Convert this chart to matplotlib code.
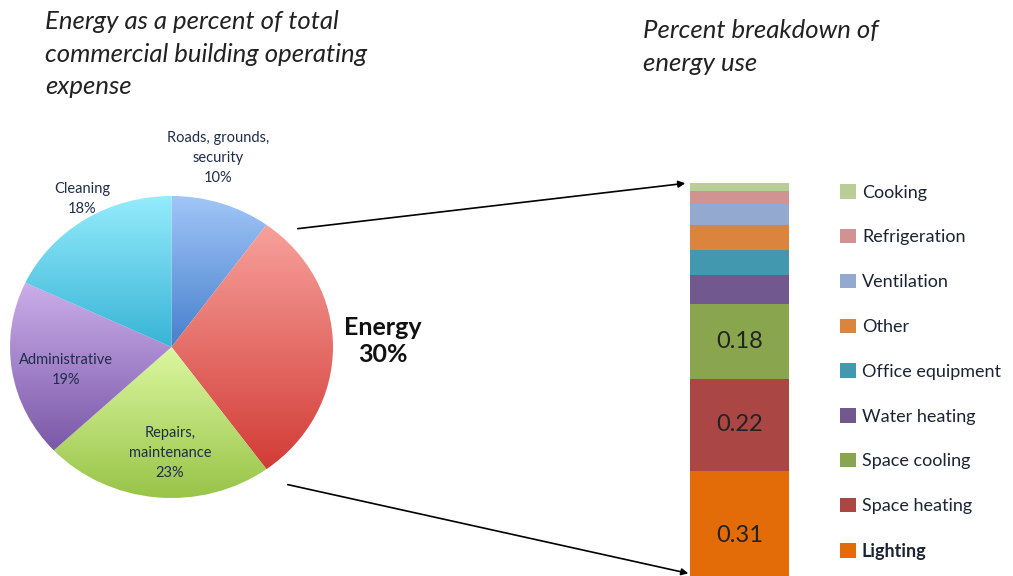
import numpy as np
import matplotlib.pyplot as plt
from matplotlib.colors import LinearSegmentedColormap
from matplotlib.patches import Patch

# operating expense breakdown (pie, clockwise from top)
pie_labels = ['Roads, grounds,\nsecurity', 'Energy', 'Repairs,\nmaintenance', 'Administrative', 'Cleaning']
pie_pct = [10, 30, 23, 19, 18]
pie_light = ['#a2c6f8', '#f8a19c', '#dcf7a0', '#cbaeea', '#95ecfc']
pie_dark = ['#4680cc', '#d23c36', '#98c448', '#7a58a8', '#38b4d6']

# energy use breakdown (stacked bar, bottom to top)
energy_uses = ['Lighting', 'Space heating', 'Space cooling', 'Water heating',
               'Office equipment', 'Other', 'Ventilation', 'Refrigeration', 'Cooking']
energy_share = [0.31, 0.22, 0.18, 0.07, 0.06, 0.06, 0.05, 0.03, 0.02]
bar_colors = ['#e36c09', '#aa4643', '#89a54e', '#71588f', '#4198af',
              '#db843d', '#93a9cf', '#d19392', '#b9cd96']

plt.rcParams['font.family'] = ['Lato', 'DejaVu Sans']
W, H = 1013, 576
fig = plt.figure(figsize=(W / 100, H / 100), dpi=100)

def fx(x):
    return x / W

def fy(y):
    return 1 - y / H

# pie
ax = fig.add_axes([fx(10), fy(498), fx(323), 302 / H])
wedges, _ = ax.pie(pie_pct, startangle=90, counterclock=False, radius=1,
                   wedgeprops=dict(facecolor='none', edgecolor='none'))
grad = np.linspace(0, 1, 256).reshape(-1, 1)
for w, c1, c2 in zip(wedges, pie_light, pie_dark):
    th = np.radians(np.linspace(w.theta1, w.theta2, 200))
    ys = np.concatenate([[0], np.sin(th)])
    cmap = LinearSegmentedColormap.from_list('g', [c1, c2])
    im = ax.imshow(grad, cmap=cmap, extent=(-1, 1, ys.min(), ys.max()),
                   origin='upper', aspect='auto', zorder=1)
    im.set_clip_path(w)
ax.set_aspect('auto')
ax.set_xlim(-1, 1)
ax.set_ylim(-1, 1)
ax.axis('off')

lab_col = '#1f2d4a'
fig.text(fx(218), fy(158), pie_labels[0] + '\n10%', ha='center', va='center',
         fontsize=10.5, color=lab_col, linespacing=1.55)
fig.text(fx(383), fy(341), 'Energy\n30%', ha='center', va='center',
         fontsize=18, fontweight='bold', color='#111111', linespacing=1.25)
fig.text(fx(170), fy(453), pie_labels[2] + '\n23%', ha='center', va='center',
         fontsize=10.5, color=lab_col, linespacing=1.55)
fig.text(fx(66), fy(370), pie_labels[3] + '\n19%', ha='center', va='center',
         fontsize=10.5, color=lab_col, linespacing=1.55)
fig.text(fx(82), fy(199), pie_labels[4] + '\n18%', ha='center', va='center',
         fontsize=10.5, color=lab_col, linespacing=1.55)

# stacked bar
ax2 = fig.add_axes([fx(690), fy(600), fx(99), 417 / H])
bottom = 0
for v, c in zip(energy_share, bar_colors):
    ax2.bar(0, v, bottom=bottom, width=1, color=c)
    if v >= 0.15:
        ax2.text(0, bottom + v / 2, f'{v:.2f}', ha='center', va='center',
                 fontsize=17, color='#222222')
    bottom += v
ax2.set_xlim(-0.5, 0.5)
ax2.set_ylim(0, bottom)
ax2.axis('off')

handles = [Patch(facecolor=c, edgecolor='none') for c in bar_colors][::-1]
leg = fig.legend(handles, energy_uses[::-1], loc='upper left',
                 bbox_to_anchor=(fx(833), fy(177)), frameon=False,
                 fontsize=13, handlelength=0.85, handleheight=0.85,
                 handletextpad=0.35, labelspacing=1.57, borderaxespad=0)
for t in leg.get_texts():
    t.set_color('#1c2433')
leg.get_texts()[-1].set_fontweight('bold')

# titles
fig.text(fx(45), fy(10), 'Energy as a percent of total\ncommercial building operating\nexpense',
         ha='left', va='top', fontsize=18.5, style='italic', color='#222222',
         linespacing=1.5)
fig.text(fx(643), fy(19), 'Percent breakdown of\nenergy use',
         ha='left', va='top', fontsize=18.5, style='italic', color='#222222',
         linespacing=1.55)

# connector arrows
arrow = dict(arrowstyle='-|>', color='black', lw=1.2, mutation_scale=10)
fig.add_artist(plt.Annotation('', xy=(fx(688), fy(183)), xytext=(fx(295), fy(229)),
                              xycoords='figure fraction', arrowprops=arrow))
fig.add_artist(plt.Annotation('', xy=(fx(691), fy(574)), xytext=(fx(285), fy(484)),
                              xycoords='figure fraction', arrowprops=arrow))

fig.savefig('out.png', dpi=100)
